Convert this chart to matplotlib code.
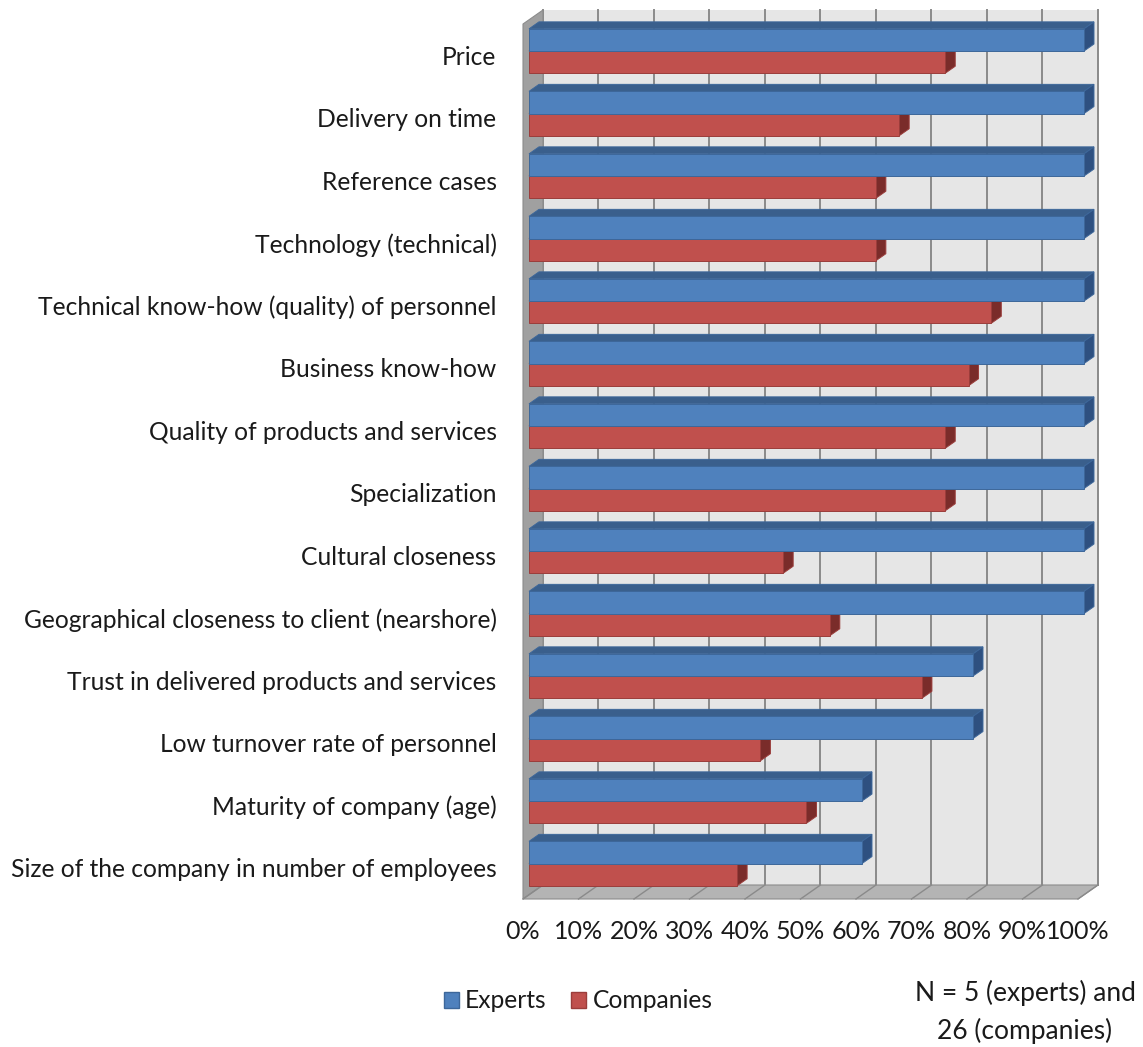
import matplotlib
matplotlib.use('Agg')
import matplotlib.pyplot as plt
from matplotlib.patches import Polygon, Patch

plt.rcParams['font.family'] = ['Lato', 'DejaVu Sans']

categories = ['Price', 'Delivery on time', 'Reference cases', 'Technology (technical)',
              'Technical know-how (quality) of personnel', 'Business know-how',
              'Quality of products and services', 'Specialization', 'Cultural closeness',
              'Geographical closeness to client (nearshore)',
              'Trust in delivered products and services', 'Low turnover rate of personnel',
              'Maturity of company (age)', 'Size of the company in number of employees']
experts = [100, 100, 100, 100, 100, 100, 100, 100, 100, 100, 80, 80, 60, 60]
companies = [75.0, 66.7, 62.5, 62.5, 83.3, 79.2, 75.0, 75.0, 45.8, 54.2, 70.8, 41.7, 50.0, 37.5]
xticks = [0, 10, 20, 30, 40, 50, 60, 70, 80, 90, 100]

# depth of the fake 3d box, in data units
DX, DY = 3.6, -0.224
BAR_W = 0.355
F0, F1 = 0.3, 0.8   # front / back of the bars inside the depth

W, H = 1143, 1047
fig = plt.figure(figsize=(W / 100, H / 100), dpi=100)
ax = fig.add_axes([523 / W, 1 - 899 / H, (1078 - 523) / W, (899 - 24) / H])
n = len(categories)
ax.set_xlim(0, 100)
ax.set_ylim(n - 0.5, -0.5)

grid_c = '#8a8a8a'
top, bot = -0.5, n - 0.5

# back wall + gridlines
ax.add_patch(Polygon([(DX, top + DY), (100 + DX, top + DY), (100 + DX, bot + DY), (DX, bot + DY)],
                     closed=True, facecolor='#e6e6e6', edgecolor='none', clip_on=False, zorder=1))
for t in xticks:
    ax.plot([t + DX, t + DX], [top + DY, bot + DY], color=grid_c, lw=1.4, clip_on=False, zorder=2)

# left wall
ax.add_patch(Polygon([(0, top), (DX, top + DY), (DX, bot + DY), (0, bot)],
                     closed=True, facecolor='#a0a0a0', edgecolor='#8c8c8c', lw=0.8,
                     clip_on=False, zorder=3))
# floor
ax.add_patch(Polygon([(0, bot), (DX, bot + DY), (100 + DX, bot + DY), (100, bot)],
                     closed=True, facecolor='#b4b4b4', edgecolor='#8c8c8c', lw=0.8,
                     clip_on=False, zorder=3))
for t in xticks:
    ax.plot([t, t + DX], [bot, bot + DY], color=grid_c, lw=1.0, clip_on=False, zorder=3)


def bar3d(y0, length, front, topc, side, edge):
    fx, fy = F0 * DX, F0 * DY
    bx, by = F1 * DX, F1 * DY
    y1 = y0 + BAR_W
    faces = [
        ([(fx, y0 + fy), (length + fx, y0 + fy), (length + bx, y0 + by), (bx, y0 + by)], topc),
        ([(length + fx, y0 + fy), (length + bx, y0 + by), (length + bx, y1 + by), (length + fx, y1 + fy)], side),
        ([(fx, y0 + fy), (length + fx, y0 + fy), (length + fx, y1 + fy), (fx, y1 + fy)], front),
    ]
    for pts, c in faces:
        ax.add_patch(Polygon(pts, closed=True, facecolor=c, edgecolor=edge, lw=0.7,
                             clip_on=False, zorder=5))


for i in range(n):
    bar3d(i, companies[i], '#c0504d', '#8f3c3a', '#7a2c2a', '#9b3d3b')
    bar3d(i - BAR_W, experts[i], '#4f81bd', '#3a5f8c', '#2e5080', '#3d679a')

txt_c = '#1a1a1a'
ax.set_xticks(xticks)
ax.set_xticklabels(['%d%%' % t for t in xticks], fontsize=18, color=txt_c)
ax.set_yticks(range(n))
ax.set_yticklabels(categories, fontsize=17.7, color=txt_c)
ax.tick_params(axis='x', length=0, pad=15)
ax.tick_params(axis='y', length=0, pad=19)
for s in ax.spines.values():
    s.set_visible(False)
ax.patch.set_visible(False)

handles = [Patch(facecolor='#4f81bd', edgecolor='#3d679a', label='Experts'),
           Patch(facecolor='#c0504d', edgecolor='#9b3d3b', label='Companies')]
leg = fig.legend(handles=handles, loc='center', bbox_to_anchor=(578 / W, 1 - 1001 / H), ncol=2,
                 frameon=False, fontsize=17.7, handlelength=0.62, handleheight=0.62,
                 handletextpad=0.25, columnspacing=1.0)
for t in leg.get_texts():
    t.set_color(txt_c)

fig.text(1025 / W, 1 - 1012 / H, 'N = 5 (experts) and\n26 (companies)', ha='center', va='center',
         fontsize=19, linespacing=1.6, color=txt_c)

fig.savefig('out.png', dpi=100)
